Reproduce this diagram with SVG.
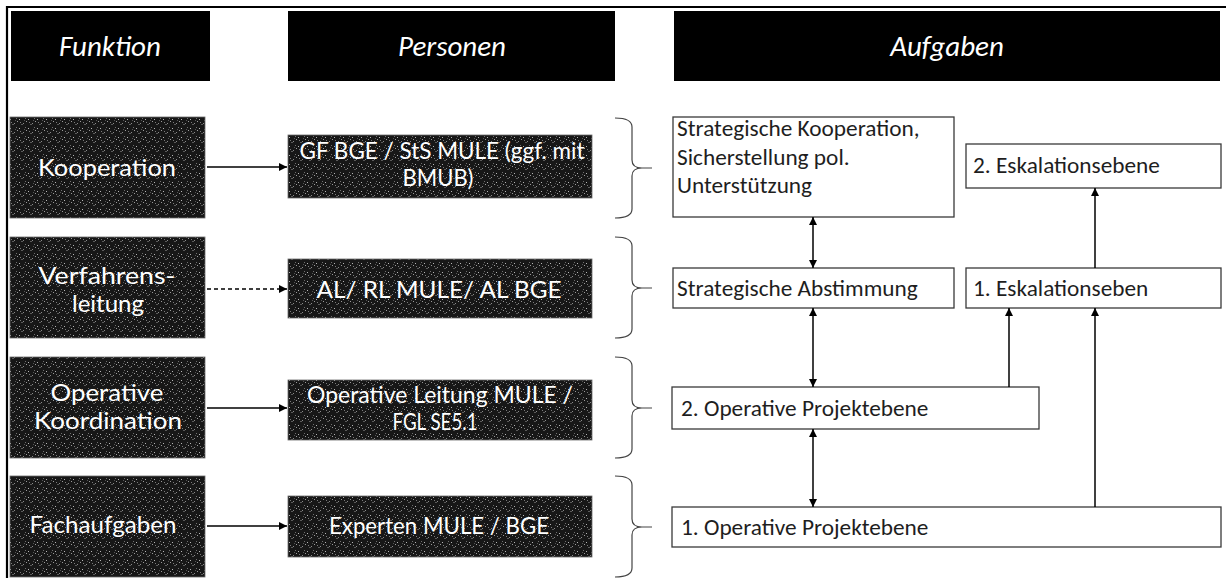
<svg xmlns="http://www.w3.org/2000/svg" width="1226" height="578" viewBox="0 0 1226 578">
<style>
.hdr{fill:#000}
.hdrt{fill:#fff;font-family:Carlito,Lato,"Liberation Sans",sans-serif;font-style:italic;font-size:29px;text-anchor:middle}
.dark{fill:url(#grain);stroke:#6a6a6a;stroke-width:0.8}
.wt{fill:#fff;font-family:Lato,Carlito,"Liberation Sans",sans-serif;text-anchor:middle}
.lf{font-size:23px}
.md{font-size:22.3px}
.box{fill:#fff;stroke:#3a3a3a;stroke-width:1.3}
.bt{fill:#1e1e1e;font-family:Carlito,Lato,"Liberation Sans",sans-serif;font-size:23.3px}
.conn{stroke:#000;stroke-width:1.5;fill:none}
.brace{stroke:#444;stroke-width:1.2;fill:none}
.frame{stroke:#000;stroke-width:2.2;fill:none}
</style>
<defs>
<pattern id="grain" width="9" height="9" patternUnits="userSpaceOnUse">
<rect width="9" height="9" fill="#171717"/>
<rect x="1" y="2" width="1" height="1" fill="#b5b5b5"/>
<rect x="5" y="6" width="1" height="1" fill="#8a8a8a"/>
<rect x="7" y="1" width="1" height="1" fill="#6f6f6f"/>
<rect x="3" y="7" width="2" height="1" fill="#5a5a5a"/>
<rect x="8" y="4" width="1" height="1" fill="#9a9a9a"/>
<rect x="2" y="5" width="1" height="1" fill="#7a7a7a"/>
<rect x="6" y="3" width="1" height="1" fill="#555"/>
</pattern>
<marker id="ah" viewBox="0 0 8 8" markerWidth="8" markerHeight="8" refX="8" refY="4" orient="auto-start-reverse" markerUnits="userSpaceOnUse">
<path d="M0,0 L8,4 L0,8 z" fill="#000"/>
</marker>
</defs>
<rect width="1226" height="578" fill="#fff"/>
<path class="frame" d="M7,578 V7 H1226"/>

<g id="hdr-funktion"><rect class="hdr" x="11" y="11" width="199" height="70"/><text class="hdrt" x="110" y="56">Funktion</text></g>
<g id="hdr-personen"><rect class="hdr" x="288" y="11" width="327" height="70"/><text class="hdrt" x="452" y="56">Personen</text></g>
<g id="hdr-aufgaben"><rect class="hdr" x="674" y="11" width="546" height="70"/><text class="hdrt" x="947" y="56">Aufgaben</text></g>

<g id="f-kooperation"><rect class="dark" x="10" y="117" width="195" height="101"/><text class="wt lf" x="107" y="176" textLength="138" lengthAdjust="spacingAndGlyphs">Kooperation</text></g>
<g id="f-verfahren"><rect class="dark" x="10" y="237" width="195" height="101"/><text class="wt lf" x="107" y="284" textLength="137" lengthAdjust="spacingAndGlyphs">Verfahrens-</text><text class="wt lf" x="108" y="312" textLength="72" lengthAdjust="spacingAndGlyphs">leitung</text></g>
<g id="f-operativ"><rect class="dark" x="10" y="357" width="195" height="101"/><text class="wt lf" x="107" y="401" textLength="113" lengthAdjust="spacingAndGlyphs">Operative</text><text class="wt lf" x="108" y="429" textLength="148" lengthAdjust="spacingAndGlyphs">Koordination</text></g>
<g id="f-fach"><rect class="dark" x="10" y="476" width="195" height="101"/><text class="wt lf" x="103" y="533" textLength="147" lengthAdjust="spacingAndGlyphs">Fachaufgaben</text></g>

<g id="p-gf"><rect class="dark" x="288" y="135" width="304" height="63"/><text class="wt md" x="442" y="159" textLength="285" lengthAdjust="spacingAndGlyphs">GF BGE / StS MULE (ggf. mit</text><text class="wt md" x="438" y="186" textLength="71" lengthAdjust="spacingAndGlyphs">BMUB)</text></g>
<g id="p-al"><rect class="dark" x="288" y="259" width="304" height="59"/><text class="wt md" x="439" y="298" textLength="245" lengthAdjust="spacingAndGlyphs">AL/ RL MULE/ AL BGE</text></g>
<g id="p-op"><rect class="dark" x="288" y="380" width="304" height="60"/><text class="wt md" x="440" y="403" textLength="266" lengthAdjust="spacingAndGlyphs">Operative Leitung MULE /</text><text class="wt md" x="435" y="430" textLength="85" lengthAdjust="spacingAndGlyphs">FGL SE5.1</text></g>
<g id="p-exp"><rect class="dark" x="288" y="496" width="304" height="61"/><text class="wt md" x="439" y="534" textLength="220" lengthAdjust="spacingAndGlyphs">Experten MULE / BGE</text></g>

<g id="a-strat-koop"><rect class="box" x="673" y="117" width="281" height="100"/><text class="bt" x="677" y="136">Strategische Kooperation,</text><text class="bt" x="677" y="164.5">Sicherstellung pol.</text><text class="bt" x="677" y="193">Unterstützung</text></g>
<g id="a-esk2"><rect class="box" x="966" y="144" width="255" height="44"/><text class="bt" x="973" y="173">2. Eskalationsebene</text></g>
<g id="a-strat-abst"><rect class="box" x="673" y="268" width="281" height="40"/><text class="bt" x="677" y="296">Strategische Abstimmung</text></g>
<g id="a-esk1"><rect class="box" x="966" y="268" width="255" height="40"/><text class="bt" x="973" y="296">1. Eskalationseben</text></g>
<g id="a-op2"><rect class="box" x="672" y="387" width="367" height="42"/><text class="bt" x="681" y="416">2. Operative Projektebene</text></g>
<g id="a-op1"><rect class="box" x="672" y="507" width="549" height="40"/><text class="bt" x="681" y="535">1. Operative Projektebene</text></g>

<g id="braces">
<path class="brace" d="M615,118 Q632,118 632,127 L632,160 Q632,168 642,168 Q632,168 632,176 L632,209 Q632,218 615,218 M642,168 H652"/>
<path class="brace" d="M615,237 Q632,237 632,246 L632,280 Q632,288 642,288 Q632,288 632,296 L632,329 Q632,338 615,338 M642,288 H652"/>
<path class="brace" d="M615,357 Q632,357 632,366 L632,400 Q632,408 642,408 Q632,408 632,416 L632,449 Q632,458 615,458 M642,408 H652"/>
<path class="brace" d="M615,476 Q632,476 632,485 L632,519 Q632,527 642,527 Q632,527 632,535 L632,568 Q632,577 615,577 M642,527 H652"/>
</g>

<g id="connectors">
<line class="conn" x1="207" y1="167" x2="287" y2="167" marker-end="url(#ah)"/>
<line class="conn" x1="207" y1="289" x2="287" y2="289" stroke-dasharray="4 3" marker-end="url(#ah)"/>
<line class="conn" x1="207" y1="408" x2="287" y2="408" marker-end="url(#ah)"/>
<line class="conn" x1="207" y1="526" x2="287" y2="526" marker-end="url(#ah)"/>
<line class="conn" x1="813" y1="217" x2="813" y2="268" marker-start="url(#ah)" marker-end="url(#ah)"/>
<line class="conn" x1="813" y1="308" x2="813" y2="387" marker-start="url(#ah)" marker-end="url(#ah)"/>
<line class="conn" x1="813" y1="429" x2="813" y2="507" marker-start="url(#ah)" marker-end="url(#ah)"/>
<line class="conn" x1="1009" y1="387" x2="1009" y2="308" marker-end="url(#ah)"/>
<line class="conn" x1="1095" y1="507" x2="1095" y2="308" marker-end="url(#ah)"/>
<line class="conn" x1="1095" y1="268" x2="1095" y2="188" marker-end="url(#ah)"/>
</g>
</svg>
